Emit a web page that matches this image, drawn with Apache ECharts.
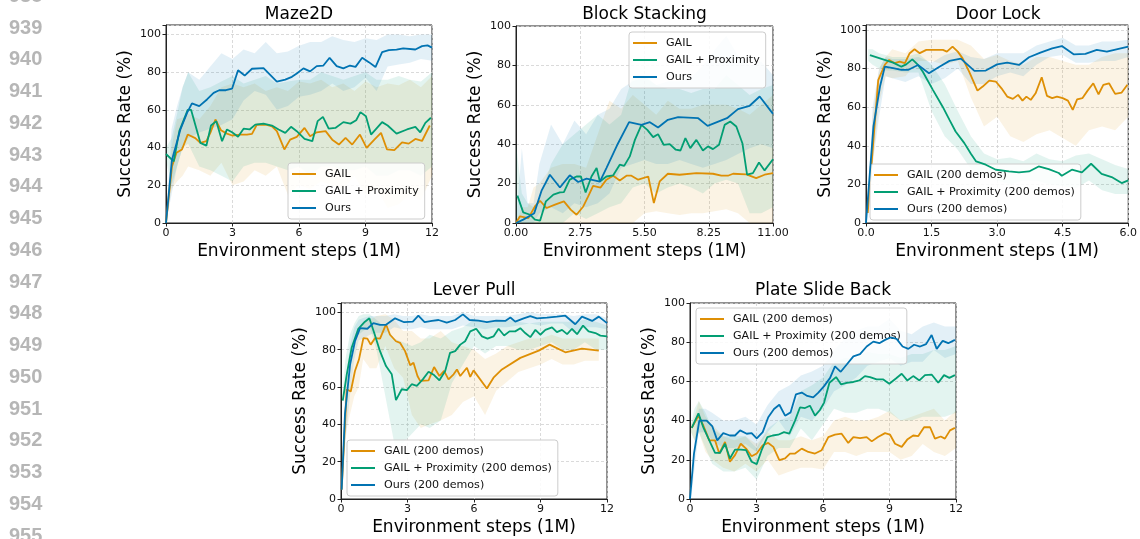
<!DOCTYPE html>
<html>
<head>
<meta charset="utf-8">
<script src="https://cdn.jsdelivr.net/npm/echarts@6/dist/echarts.min.js"></script>
<style>
  html, body { margin: 0; padding: 0; background: #fff; }
  #chart { width: 1140px; height: 539px; }
</style>
</head>
<body>
<div id="chart"></div>
<script>
// ---------------- data ----------------
const lineNumbers = ['938','939','940','941','942','943','944','945','946','947','948','949','950','951','952','953','954','955'];
const namesShort = ['GAIL', 'GAIL + Proximity', 'Ours'];
const namesDemo = ['GAIL (200 demos)', 'GAIL + Proximity (200 demos)', 'Ours (200 demos)'];
const yTicks = [0, 20, 40, 60, 80, 100];

// Maze2D: mean curves [step, success]
const mazeGail = [[0,0],[0.27,30],[0.47,37.2],[0.72,39],[0.98,46.9],[1.32,45],[1.55,42.5],[1.82,43.4],[2.0,47.8],[2.23,54.9],[2.48,49.2],[2.75,47.4],[2.98,46.4],[3.35,46.9],[3.65,46.9],[3.88,47.3],[4.1,52.2],[4.55,52],[4.78,51.3],[5.0,48.7],[5.34,39],[5.6,44.2],[5.9,45.7],[6.25,50.4],[6.5,46],[6.8,48.1],[7.2,48.7],[7.5,44.2],[7.8,41.6],[8.1,45.1],[8.4,41.6],[8.75,46.9],[9.05,39.8],[9.4,44.2],[9.7,47.8],[9.97,39],[10.3,38.6],[10.65,42.8],[10.95,42.1],[11.25,44.6],[11.55,43.5],[11.9,51.7]];
const mazeProx = [[0,36.6],[0.35,32.7],[0.6,48.7],[0.98,60],[1.13,60],[1.55,42.5],[1.82,41],[2.03,51.7],[2.27,54],[2.53,43.4],[2.75,49.6],[2.98,48.1],[3.25,45.7],[3.5,50],[3.77,49.6],[4.03,52.2],[4.4,52.7],[4.78,51.7],[5.08,49.6],[5.38,47.8],[5.64,51],[5.9,48.7],[6.25,44.6],[6.6,43.4],[6.84,54],[7.08,56.3],[7.34,50],[7.64,50.4],[8.0,53.5],[8.32,52.7],[8.58,54.5],[8.77,58.8],[9.02,56.6],[9.25,46.9],[9.75,53.5],[10.0,51.7],[10.4,47.4],[10.87,49.6],[11.25,51],[11.47,48.1],[11.7,53.1],[11.95,55.8]];
const mazeOurs = [[0,0],[0.27,33.6],[0.65,49.6],[0.95,58.4],[1.17,63.4],[1.5,62],[1.85,65.5],[2.15,69],[2.4,70.4],[2.7,70.4],[2.98,71.2],[3.25,81],[3.55,78.2],[3.88,81.8],[4.4,82.1],[5.0,75],[5.38,76],[5.68,77.5],[5.9,79.3],[6.2,82],[6.5,80.4],[6.8,83.2],[7.1,83.5],[7.38,87.6],[7.7,83.2],[8.0,82],[8.3,83.5],[8.55,82.8],[8.85,87.6],[9.15,85.3],[9.45,82.7],[9.75,90.6],[10.05,91.7],[10.4,91.9],[10.7,92.6],[11.25,92],[11.55,93.8],[11.8,94.2],[12,93]];
// Maze2D: spread across seeds
const mazeBandX  = [0,0.25,0.5,0.75,1,1.5,2,2.5,3,3.5,4,4.5,5,5.5,6,6.5,7,7.5,8,8.5,9,9.5,10,10.5,11,11.5,12];
const mazeGailLo = [0,18,22,25,30,28,25,32,20,22,28,25,30,15,20,18,22,20,18,25,15,18,8,10,15,12,25];
const mazeGailHi = [0,40,55,56,58,55,62,72,74,72,74,70,72,70,75,74,76,72,74,70,75,72,74,73,76,72,78];
const mazeProxLo = [33,20,30,40,42,30,28,25,22,30,32,32,30,28,30,25,30,30,28,28,30,25,25,28,28,25,30];
const mazeProxHi = [40,45,58,72,80,70,72,75,78,74,76,78,74,75,76,76,80,78,76,78,80,76,76,78,76,75,80];
const mazeOursLo = [0,15,30,40,45,48,50,52,55,65,70,68,60,62,67,68,70,74,70,72,77,70,83,84,85,87,86];
const mazeOursHi = [0,50,62,72,80,76,83,90,87,92,90,96,90,91,94,96,96,99,97,96,98,97,100,100,99,100,100];

// Block Stacking
const blockGail = [[0,0],[0.17,3.4],[0.53,2.5],[0.81,8.4],[1.03,11.3],[1.31,7.6],[1.67,9.3],[2.05,11],[2.34,6.8],[2.59,4.2],[2.88,8.4],[3.09,13.5],[3.3,18.9],[3.62,18],[3.87,22],[4.16,24],[4.44,21.6],[4.73,24],[4.94,24],[5.23,22],[5.66,23.6],[5.9,10.1],[6.15,21.1],[6.5,25],[7.0,24.5],[7.72,25.3],[8.43,25],[8.79,24],[9.07,24],[9.29,25],[9.86,24.7],[10.28,22.8],[10.64,24.5],[11,25.3]];
const blockProx = [[0.06,13.9],[0.31,5.4],[0.6,4.2],[0.81,1.7],[1.03,1.2],[1.28,11],[1.6,14.4],[1.88,15.5],[2.05,15.7],[2.3,22],[2.59,23.6],[2.78,23.6],[2.98,15.5],[3.23,23.6],[3.45,27.9],[3.59,21.1],[3.87,23.6],[4.16,24.2],[4.44,29.6],[4.63,29],[4.87,33.8],[5.09,42.2],[5.37,49.8],[5.62,47.3],[5.87,43.6],[6.08,45.1],[6.32,39.7],[6.58,40],[6.84,37.2],[7.04,36.8],[7.25,43.1],[7.46,38],[7.72,42.2],[8.0,36.8],[8.22,38.9],[8.43,37.5],[8.69,39.7],[8.93,49.8],[9.17,51.5],[9.43,49],[9.69,40.5],[9.89,24.5],[10.14,25.3],[10.4,30.7],[10.64,26.7],[11,32.4]];
const blockOurs = [[0,0],[0.31,1.7],[0.6,3.7],[0.78,5],[1.1,16.6],[1.45,24.5],[1.88,18],[2.3,24.2],[2.66,20.8],[3.02,22.5],[3.59,21],[3.87,27.9],[4.37,40.5],[4.84,51.2],[5.37,49.8],[5.73,51.2],[6.08,48.5],[6.5,52.4],[6.94,53.7],[7.8,53.2],[8.2,49.3],[9.03,53.2],[9.5,57.8],[10.0,59.5],[10.43,64.2],[11,55.4]];
const blockBandX  = [0,0.25,0.5,0.75,1,1.5,2,2.5,3,3.5,4,4.5,5,5.5,6,6.5,7,7.5,8,8.5,9,9.5,10,10.5,11];
const blockGailLo = [0,0,0,0,0,0,0,0,0,0,0,0,0,5,6,5,4,5,5,6,7,5,0,0,0];
const blockGailHi = [0,8,8,18,20,28,30,30,28,45,62,58,65,60,55,62,58,58,60,60,60,58,55,60,65];
const blockProxLo = [0,0,0,0,0,0,0,5,2,5,8,10,18,20,15,18,20,18,15,20,22,20,5,5,8];
const blockProxHi = [40,15,10,8,12,30,40,45,50,55,50,55,75,75,70,68,68,66,68,68,75,70,65,68,70];
const blockOursLo = [0,0,0,0,5,8,5,10,8,10,15,28,30,32,30,30,32,30,28,30,32,35,38,40,38];
const blockOursHi = [0,38,10,10,30,50,40,52,45,55,58,68,72,74,70,72,72,74,80,88,95,85,80,82,75];

// Door Lock
const doorGail = [[0.04,5.2],[0.17,43],[0.28,74],[0.43,82],[0.53,84.5],[0.66,82.8],[0.77,83.6],[0.89,82.8],[1.0,88],[1.11,90],[1.23,88],[1.38,89.7],[1.6,89.7],[1.76,89.7],[1.85,88.8],[1.98,91.4],[2.1,88.8],[2.21,85.3],[2.36,78.4],[2.55,68.6],[2.67,70.7],[2.82,73.8],[2.97,73.3],[3.1,69.8],[3.23,65.5],[3.36,64.3],[3.48,66.4],[3.58,63.4],[3.67,65.5],[3.77,63.8],[3.88,67.2],[4.02,75.5],[4.14,65.9],[4.26,64.7],[4.37,65.5],[4.5,64.7],[4.62,63.4],[4.73,58.6],[4.83,64.1],[4.95,64.7],[5.07,68.6],[5.2,72.4],[5.32,66.7],[5.43,71.6],[5.56,72.4],[5.7,66.9],[5.85,67.6],[5.98,71.6]];
const doorProx = [[0.09,87],[0.39,84.8],[0.62,83.1],[0.81,81],[0.92,82.2],[1.06,84.8],[1.19,81.9],[1.3,78.4],[1.53,69],[1.76,60],[1.91,53.4],[2.05,47.4],[2.25,41.4],[2.4,35.9],[2.52,31.9],[2.74,30.2],[2.97,27.6],[3.27,26.7],[3.5,26.2],[3.73,26.7],[3.95,29.3],[4.18,27.9],[4.41,25.9],[4.48,24.5],[4.71,27.6],[4.94,26.2],[5.15,30.7],[5.39,25.5],[5.62,23.8],[5.85,20.7],[6.0,22.1]];
const doorOurs = [[0,0],[0.17,50],[0.32,70.7],[0.43,81],[0.62,80.2],[0.81,79.3],[0.96,79.3],[1.19,81.9],[1.44,77.6],[1.68,81],[1.91,84],[2.17,85.2],[2.48,78.8],[2.74,79],[3.0,82.2],[3.23,83.1],[3.5,81.9],[3.73,85.9],[3.99,88.3],[4.26,90.5],[4.48,91.7],[4.75,87.4],[5.02,87.6],[5.28,89.7],[5.51,88.8],[5.73,90],[6.0,91.4]];
const doorBandX  = [0.05,0.15,0.3,0.45,0.6,0.9,1.2,1.5,1.8,2.1,2.4,2.7,3,3.3,3.6,3.9,4.2,4.5,4.8,5.1,5.4,5.7,6];
const doorGailLo = [5,30,62,76,75,76,84,84,82,84,65,50,55,45,42,46,48,44,40,48,50,48,55];
const doorGailHi = [5,55,80,86,90,88,94,95,95,95,92,85,87,84,82,86,86,84,82,82,86,88,88];
const doorProxLo = [84,82,80,79,79,78,78,58,45,38,28,24,22,20,22,22,20,19,18,22,17,15,15];
const doorProxHi = [90,90,88,87,86,86,88,82,72,58,45,36,33,34,32,36,33,32,35,36,33,30,28];
const doorOursLo = [0,30,55,76,75,73,76,72,75,80,72,72,76,78,76,82,86,87,83,83,84,84,86];
const doorOursHi = [0,60,80,86,85,85,86,83,87,89,86,85,88,88,88,92,94,96,92,92,94,94,95];

// Lever Pull
const leverGail = [[0.03,5],[0.26,58.8],[0.44,57.6],[0.63,68.6],[0.81,74.7],[1.01,86.2],[1.19,85.9],[1.34,82.7],[1.54,86.2],[1.76,85.9],[2.03,93.6],[2.21,88],[2.48,84.5],[2.67,83.6],[2.89,79.2],[3.12,71.7],[3.27,73],[3.45,65.9],[3.57,63.3],[3.95,63.6],[4.2,70.7],[4.44,65.9],[4.65,68.6],[4.85,64.1],[5.08,66.8],[5.23,69.4],[5.38,65.9],[5.68,70.3],[5.83,65.4],[5.98,68.9],[6.58,59.2],[6.88,65],[7.26,69.4],[8.09,75.6],[8.92,79.5],[9.41,82.7],[10.12,78.6],[10.87,80.6],[11.63,79.5]];
const leverProx = [[0.08,52.7],[0.26,66.8],[0.48,81],[0.78,91.2],[1.08,95],[1.28,96.8],[1.5,88.9],[1.76,79.2],[2.03,71.2],[2.29,66.8],[2.48,53],[2.74,58.8],[2.97,58.3],[3.19,61.5],[3.42,60.6],[3.69,64.1],[3.95,68.2],[4.2,66.4],[4.44,63.6],[4.7,68.6],[4.92,78.3],[5.15,79.2],[5.38,82.7],[5.6,84.5],[5.83,89.8],[6.1,91.2],[6.36,87.1],[6.61,85.9],[6.88,87.1],[7.11,91.2],[7.36,87.6],[7.6,89.8],[7.86,89.8],[8.09,91.5],[8.31,88.9],[8.54,86.7],[8.77,90.6],[8.99,88],[9.22,90.6],[9.52,91.9],[9.74,89.4],[9.97,90.6],[10.2,88.3],[10.42,91.2],[10.65,88.3],[10.92,92.9],[11.17,89.8],[11.48,88.9],[11.7,87.5],[12,87.1]];
const leverOurs = [[0.03,5],[0.18,45.6],[0.41,72],[0.63,84.5],[0.86,91.5],[1.19,91.2],[1.46,94.2],[1.76,93.3],[2.03,93.3],[2.44,96.8],[2.85,94.7],[3.24,95],[3.49,98.2],[3.77,94.7],[4.1,95.4],[4.4,95.9],[4.77,94.5],[5.15,95.9],[5.5,98.9],[5.8,95.9],[6.2,95.6],[6.58,94.7],[7.0,95.6],[7.41,95.4],[7.64,97.2],[7.86,95],[8.24,96.8],[8.54,98],[8.84,96.8],[9.29,97.2],[9.74,97.7],[10.12,98.2],[10.57,93.6],[10.87,97.7],[11.33,95.4],[11.63,97.7],[12,94.2]];
const leverBandX  = [0.03,0.2,0.4,0.6,0.8,1,1.3,1.6,2,2.4,2.8,3.2,3.6,4,4.5,5,5.5,6,6.5,7,7.5,8,8.5,9,9.5,10,10.5,11,11.5,12];
const leverGailBandX = [0.03,0.2,0.4,0.6,0.8,1,1.3,1.6,2,2.4,2.8,3.2,3.6,4,4.5,5,5.5,6,6.5,7,7.5,8,8.5,9,9.5,10,10.5,11,11.5,11.63];
const leverGailLo = [5,35,45,55,60,75,70,70,82,70,65,45,38,40,42,45,52,55,45,58,63,68,70,72,75,72,72,74,74,74];
const leverGailHi = [5,65,68,82,92,95,96,98,99,96,90,90,86,86,90,84,82,80,75,78,82,84,86,86,88,86,86,86,86,86];
const leverProxLo = [52,58,72,86,88,90,92,80,55,30,30,35,40,38,42,62,72,82,78,82,82,80,80,82,84,80,80,84,80,80];
const leverProxHi = [52,75,88,94,98,99,99,96,92,86,84,82,84,88,86,90,92,96,94,95,96,95,94,95,95,95,95,96,95,93];
const leverOursLo = [5,30,55,75,85,86,88,89,89,92,91,91,92,91,91,91,93,92,91,92,92,93,94,93,94,94,89,92,92,91];
const leverOursHi = [5,62,82,92,96,97,98,98,98,99,98,98,99,98,98,98,100,98,98,98,98,99,100,99,99,99,98,99,99,97];

// Plate Slide Back
const plateGail = [[0.08,36.3],[0.38,42.5],[0.6,37.5],[0.87,29.9],[1.13,29.9],[1.32,23.2],[1.58,29.1],[1.8,19],[2.03,22.4],[2.29,28.2],[2.53,25.7],[2.78,21.8],[3.01,23.2],[3.28,27.4],[3.53,28.6],[3.76,26.6],[4.03,19.8],[4.29,20.7],[4.51,23.2],[4.74,23.2],[5.04,25.7],[5.34,24],[5.64,23.2],[5.94,24.9],[6.24,31.6],[6.54,32.8],[6.84,33.3],[7.14,28.6],[7.37,31.6],[7.67,31.1],[7.97,31.6],[8.2,29.4],[8.48,31.6],[8.8,33.6],[9.02,32.9],[9.25,28.2],[9.55,26.6],[9.8,30.3],[10.07,32.4],[10.3,32.1],[10.56,36.6],[10.83,36.6],[11.05,30.8],[11.31,31.9],[11.5,30.8],[11.73,35],[11.95,36.3]];
const plateProx = [[0.08,36.3],[0.38,43.7],[0.6,36.6],[0.87,29.9],[1.13,23.5],[1.35,23.5],[1.58,28.2],[1.8,20.7],[2.03,25.2],[2.29,25.2],[2.53,24.9],[2.78,19],[3.01,17.8],[3.23,24.9],[3.49,31.6],[3.73,32.4],[3.98,32.8],[4.24,34.1],[4.48,33.3],[4.74,40],[4.96,46.7],[5.19,46.4],[5.41,47.6],[5.64,42.5],[5.86,45.4],[6.05,49.2],[6.29,59.3],[6.59,62.2],[6.81,58.5],[7.07,59.3],[7.37,59.7],[7.64,60.5],[7.89,62.7],[8.12,62.2],[8.42,61],[8.72,61],[8.99,58.8],[9.29,61.5],[9.55,63.9],[9.8,60.5],[10.07,62.7],[10.35,60.5],[10.6,63.2],[10.9,63.5],[11.2,59.3],[11.46,63.2],[11.7,61.8],[11.95,63.2]];
const plateOurs = [[0,0],[0.18,23.2],[0.42,40],[0.75,40],[1.01,37],[1.23,29.9],[1.5,33.6],[1.8,32.4],[2.03,32.4],[2.26,35],[2.56,33.3],[2.78,33.6],[3.01,30.9],[3.28,34.1],[3.53,41.7],[3.79,45.9],[4.03,48.1],[4.29,42.5],[4.54,44.2],[4.78,53.4],[5.04,54.3],[5.29,52.6],[5.56,51.8],[5.79,54.3],[6.05,57.6],[6.32,61.8],[6.54,67.7],[6.8,64.9],[7.07,68.6],[7.37,72.8],[7.67,73.9],[7.97,77.8],[8.27,80.3],[8.54,79.5],[8.8,81.2],[9.05,82.4],[9.32,81.7],[9.59,77.8],[9.85,76.6],[10.11,78.7],[10.38,77.8],[10.65,79],[10.9,83.7],[11.13,76.6],[11.4,80.7],[11.65,79.5],[11.95,81.2]];
const plateBandX  = [0.05,0.2,0.4,0.7,1,1.5,2,2.5,3,3.5,4,4.5,5,5.5,6,6.5,7,7.5,8,8.5,9,9.5,10,10.5,11,11.5,12];
const plateGailLo = [34,30,34,24,20,16,14,18,14,20,12,14,16,16,15,24,24,22,24,24,24,20,22,28,24,22,26];
const plateGailHi = [38,42,50,42,38,32,30,32,28,34,30,30,32,30,32,40,42,40,40,42,45,40,42,44,46,40,45];
const plateProxLo = [34,30,34,26,18,14,14,16,10,22,26,26,36,30,38,46,44,44,46,46,44,40,40,42,42,42,44];
const plateProxHi = [38,46,50,44,36,32,32,32,26,36,40,42,55,58,62,70,72,72,75,74,74,72,74,74,76,76,78];
const plateOursLo = [0,15,34,34,30,26,26,28,24,34,40,32,42,40,46,55,58,62,68,70,72,68,70,70,76,72,74];
const plateOursHi = [0,30,46,46,44,40,40,42,38,48,55,58,63,65,68,76,82,86,88,88,92,86,84,88,90,88,88];

// ---------------- styling / layout ----------------
const FONT = '"DejaVu Sans", sans-serif';
const COLORS = ['#DE8F05', '#029E73', '#0173B2'];   // GAIL, GAIL + Proximity, Ours

function zipBand(xs, lo, hi) { return xs.map((x, i) => [x, lo[i], hi[i]]); }

const panels = [
  { title: 'Maze2D', box: [166, 25, 266, 198], titleY: 14.5, xMax: 12, xInt: 3, xDec: 0, yMax: 105,
    names: namesShort, legendPos: { left: 288, top: 163 },
    lines: [mazeGail, mazeProx, mazeOurs],
    bands: [zipBand(mazeBandX, mazeGailLo, mazeGailHi), zipBand(mazeBandX, mazeProxLo, mazeProxHi), zipBand(mazeBandX, mazeOursLo, mazeOursHi)] },
  { title: 'Block Stacking', box: [516, 26, 257, 197], titleY: 14.5, xMax: 11, xInt: 2.75, xDec: 2, yMax: 100,
    names: namesShort, legendPos: { left: 629, top: 32 },
    lines: [blockGail, blockProx, blockOurs],
    bands: [zipBand(blockBandX, blockGailLo, blockGailHi), zipBand(blockBandX, blockProxLo, blockProxHi), zipBand(blockBandX, blockOursLo, blockOursHi)] },
  { title: 'Door Lock', box: [866, 25, 264, 198], titleY: 14.5, xMax: 6, xInt: 1.5, xDec: 1, yMax: 102.6,
    names: namesDemo, legendPos: { left: 870, top: 164 },
    lines: [doorGail, doorProx, doorOurs],
    bands: [zipBand(doorBandX, doorGailLo, doorGailHi), zipBand(doorBandX, doorProxLo, doorProxHi), zipBand(doorBandX, doorOursLo, doorOursHi)] },
  { title: 'Lever Pull', box: [341, 303, 266, 198], titleY: 290.8, xMax: 12, xInt: 3, xDec: 0, yMax: 105,
    names: namesDemo, legendPos: { left: 347, top: 440 },
    lines: [leverGail, leverProx, leverOurs],
    bands: [zipBand(leverGailBandX, leverGailLo, leverGailHi), zipBand(leverBandX, leverProxLo, leverProxHi), zipBand(leverBandX, leverOursLo, leverOursHi)] },
  { title: 'Plate Slide Back', box: [690, 303, 266, 198], titleY: 291, xMax: 12, xInt: 3, xDec: 0, yMax: 100,
    names: namesDemo, legendPos: { left: 696, top: 308 },
    lines: [plateGail, plateProx, plateOurs],
    bands: [zipBand(plateBandX, plateGailLo, plateGailHi), zipBand(plateBandX, plateProxLo, plateProxHi), zipBand(plateBandX, plateOursLo, plateOursHi)] }
];

const grids = [], xAxes = [], yAxes = [], series = [], legends = [], graphics = [];

panels.forEach((p, i) => {
  const [left, top, width, height] = p.box;
  grids.push({ left, top, width, height, show: true, borderColor: '#222', borderWidth: 1, backgroundColor: 'transparent' });

  xAxes.push({
    gridIndex: i, type: 'value', min: 0, max: p.xMax, interval: p.xInt,
    name: 'Environment steps (1M)', nameLocation: 'middle', nameGap: 19,
    nameTextStyle: { fontSize: 17, color: '#000', fontFamily: FONT, lineHeight: 20 },
    axisLine: { show: true, onZero: false, lineStyle: { color: '#222', width: 1 } },
    axisTick: { show: true, length: 3.5, lineStyle: { color: '#222', width: 1 } },
    axisLabel: { fontSize: 11, color: '#111', fontFamily: FONT, margin: 5,
                 formatter: v => Number(v).toFixed(p.xDec) },
    splitLine: { show: true, lineStyle: { color: '#d0d0d0', type: [3, 2], width: 0.8 } }
  });

  yAxes.push({
    gridIndex: i, type: 'value', min: 0, max: p.yMax, interval: 20,
    name: 'Success Rate (%)', nameLocation: 'middle', nameGap: 30.5, nameRotate: 90,
    nameTextStyle: { fontSize: 17, color: '#000', fontFamily: FONT, lineHeight: 20 },
    axisLine: { show: true, onZero: false, lineStyle: { color: '#222', width: 1 } },
    axisTick: { show: true, length: 3.5, lineStyle: { color: '#222', width: 1 } },
    axisLabel: { fontSize: 11, color: '#111', fontFamily: FONT, margin: 5,
                 formatter: v => (yTicks.indexOf(v) >= 0 ? String(v) : '') },
    splitLine: { show: true, lineStyle: { color: '#d0d0d0', type: [3, 2], width: 0.8 } }
  });

  // shaded spread bands (drawn as one polygon per method)
  p.bands.forEach((band, k) => {
    series.push({
      type: 'custom', name: p.names[k] + ' spread', xAxisIndex: i, yAxisIndex: i,
      coordinateSystem: 'cartesian2d', silent: true, z: 1, clip: true,
      data: band, encode: { x: 0, y: [1, 2] },
      renderItem: (params, api) => {
        if (params.dataIndex !== 0) return null;
        const upper = band.map(d => api.coord([d[0], d[2]]));
        const lower = band.slice().reverse().map(d => api.coord([d[0], d[1]]));
        return { type: 'polygon', shape: { points: upper.concat(lower) },
                 style: { fill: COLORS[k], opacity: 0.11 } };
      }
    });
  });

  // mean curves
  p.lines.forEach((pts, k) => {
    series.push({
      type: 'line', name: p.names[k], xAxisIndex: i, yAxisIndex: i, data: pts,
      symbol: 'none', z: 3 + k, color: COLORS[k],
      lineStyle: { width: 1.8, color: COLORS[k] }, animation: false
    });
  });

  legends.push(Object.assign({
    orient: 'vertical', selectedMode: false, data: p.names.slice(),
    icon: 'rect', itemWidth: 24, itemHeight: 2, itemGap: 5,
    padding: [5, 6, 5, 4], backgroundColor: 'rgba(255,255,255,0.85)',
    borderColor: '#cccccc', borderWidth: 1, borderRadius: 3,
    textStyle: { fontSize: 11.1, color: '#111', fontFamily: FONT, lineHeight: 12, padding: [0, 0, 0, 4] }
  }, p.legendPos));

  graphics.push({
    type: 'text', x: left + width / 2, y: p.titleY, silent: true,
    style: { text: p.title, fontSize: 17, fontFamily: FONT, fill: '#000', align: 'center', verticalAlign: 'middle' }
  });
});

// page line numbers in the left margin
lineNumbers.forEach((t, i) => {
  graphics.push({
    type: 'text', x: 9, y: -3.75 + i * 31.75, silent: true,
    style: { text: t, fontSize: 20, fontWeight: 'bold', fontFamily: '"Liberation Sans", Arial, sans-serif',
             fill: '#b6b6b6', align: 'left', verticalAlign: 'middle' }
  });
});

const chart = echarts.init(document.getElementById('chart'), null, { renderer: 'canvas' });
chart.setOption({
  animation: false,
  backgroundColor: '#ffffff',
  textStyle: { fontFamily: FONT },
  grid: grids,
  xAxis: xAxes,
  yAxis: yAxes,
  legend: legends,
  graphic: graphics,
  series: series
});
</script>
</body>
</html>
